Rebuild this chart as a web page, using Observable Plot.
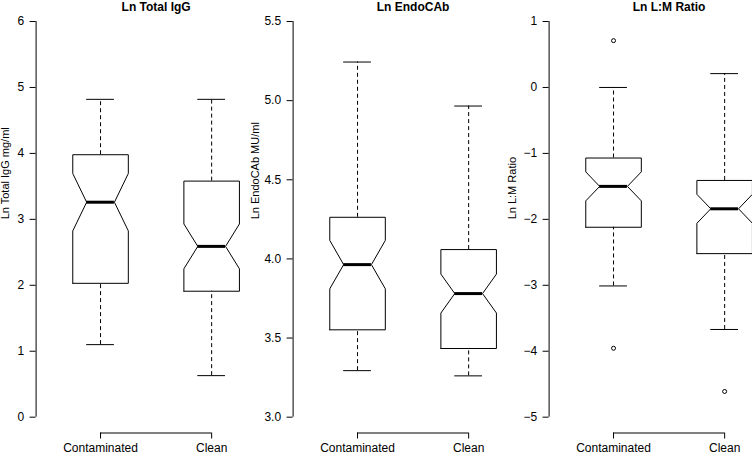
<!DOCTYPE html>
<html><head><meta charset="utf-8">
<script src="https://cdn.jsdelivr.net/npm/d3@7"></script>
<script src="https://cdn.jsdelivr.net/npm/@observablehq/plot@0.6"></script>
<style>
html,body{margin:0;padding:0;background:#fff;overflow:hidden;}
#wrap{position:relative;width:752px;height:454px;overflow:hidden;background:#fff;}
.panel{position:absolute;top:0;height:454px;}
</style></head><body><div id="wrap"></div>
<script>
// ---- data ----
const groups = ["Contaminated", "Clean"];
const titles = ["Ln Total IgG", "Ln EndoCAb", "Ln L:M Ratio"];
const yLabels = ["Ln Total IgG mg/ml", "Ln EndoCAb MU/ml", "Ln L:M Ratio"];
const yTicks = [[0, 1, 2, 3, 4, 5, 6], [3.0, 3.5, 4.0, 4.5, 5.0, 5.5], [-5, -4, -3, -2, -1, 0, 1]];
// per group: [lower whisker, Q1, median, Q3, upper whisker]
const iggStats = [[1.10, 2.03, 3.26, 3.98, 4.82], [0.63, 1.91, 2.59, 3.58, 4.82]];
const iggNotch = [0.435, 0.34];
const iggOutliers = [[], []];
const endoStats = [[3.294, 3.552, 3.964, 4.263, 5.244], [3.261, 3.434, 3.781, 4.059, 4.966]];
const endoNotch = [0.153, 0.123];
const endoOutliers = [[], []];
const lmStats = [[-3.01, -2.12, -1.50, -1.07, 0.00], [-3.67, -2.52, -1.84, -1.41, 0.21]];
const lmNotch = [0.22, 0.22];
const lmOutliers = [[0.71, -3.955], [-4.61]];

const panels = [
  {stats: iggStats, notch: iggNotch, outliers: iggOutliers, fmt: d3.format("d"), left: 0, labOffset: 30.6},
  {stats: endoStats, notch: endoNotch, outliers: endoOutliers, fmt: d3.format(".1f"), left: 257.3, labOffset: 37.5},
  {stats: lmStats, notch: lmNotch, outliers: lmOutliers, fmt: d3.format("d"), left: 512.7, labOffset: 37}
];

const FONT = "'Liberation Sans', Arial, Helvetica, sans-serif";
const wrap = document.getElementById("wrap");

panels.forEach((p, i) => {
  const ticks = yTicks[i];
  const t0 = ticks[0], t1 = ticks[ticks.length - 1];
  const span = t1 - t0;
  const yDomain = [t0 - 0.04 * span, t1 + 0.04 * span];
  const xDomain = [0.5 - 0.04 * 2, groups.length + 0.5 + 0.04 * 2];
  const hw = 0.25, nw = 0.125, sw = 0.125;
  const rows = p.stats.map((s, k) => ({g: k + 1, lo: s[0], q1: s[1], med: s[2], q3: s[3], hi: s[4], n: p.notch[k]}));
  const poly = rows.flatMap(r => [
    [r.g - hw, r.q1], [r.g - hw, r.med - r.n], [r.g - nw, r.med], [r.g - hw, r.med + r.n], [r.g - hw, r.q3],
    [r.g + hw, r.q3], [r.g + hw, r.med + r.n], [r.g + nw, r.med], [r.g + hw, r.med - r.n], [r.g + hw, r.q1],
    [r.g - hw, r.q1]
  ].map(([x, y]) => ({x, y, g: r.g})));
  const outs = p.outliers.flatMap((arr, k) => arr.map(v => ({g: k + 1, v})));

  const svg = Plot.plot({
    width: 278, height: 454,
    marginLeft: 35.6, marginRight: 2.4, marginTop: 5.2, marginBottom: 21.5,
    x: {type: "linear", domain: xDomain},
    y: {domain: yDomain},
    style: {background: "transparent", overflow: "visible", fontFamily: FONT, color: "black"},
    marks: [
      Plot.axisY(ticks, {tickSize: 6, tickPadding: 6, fontSize: 12, tickFormat: p.fmt, label: null, stroke: "black"}),
      Plot.axisX(groups.map((g, k) => k + 1), {tickSize: 6, tickPadding: 4, fontSize: 12, tickFormat: d => groups[d - 1], label: null, stroke: "black"}),
      Plot.ruleX([{x: xDomain[0], y1: t0, y2: t1}], {x: "x", y1: "y1", y2: "y2", stroke: "black"}),
      Plot.ruleY([{y: yDomain[0], x1: 1, x2: groups.length}], {y: "y", x1: "x1", x2: "x2", stroke: "black"}),
      Plot.ruleX(rows, {x: "g", y1: "q3", y2: "hi", stroke: "black", strokeDasharray: "4,3"}),
      Plot.ruleX(rows, {x: "g", y1: "lo", y2: "q1", stroke: "black", strokeDasharray: "4,3"}),
      Plot.ruleY(rows, {y: "hi", x1: d => d.g - sw, x2: d => d.g + sw, stroke: "black"}),
      Plot.ruleY(rows, {y: "lo", x1: d => d.g - sw, x2: d => d.g + sw, stroke: "black"}),
      Plot.line(poly, {x: "x", y: "y", z: "g", stroke: "black", strokeWidth: 1, curve: "linear"}),
      Plot.ruleY(rows, {y: "med", x1: d => d.g - nw, x2: d => d.g + nw, stroke: "black", strokeWidth: 3}),
      Plot.dot(outs, {x: "g", y: "v", r: 2, stroke: "black", strokeWidth: 1, fill: "none"}),
      Plot.text([titles[i]], {text: d => d, frameAnchor: "top", dy: 1.6, lineAnchor: "middle", fontWeight: "bold", fontSize: 12}),
      Plot.text([yLabels[i]], {text: d => d, frameAnchor: "left", rotate: -90, dx: -p.labOffset, lineAnchor: "middle", fontSize: 11})
    ]
  });
  const div = document.createElement("div");
  div.className = "panel";
  div.style.left = p.left + "px";
  div.style.width = "278px";
  div.appendChild(svg);
  wrap.appendChild(div);
});
</script>
</body></html>
